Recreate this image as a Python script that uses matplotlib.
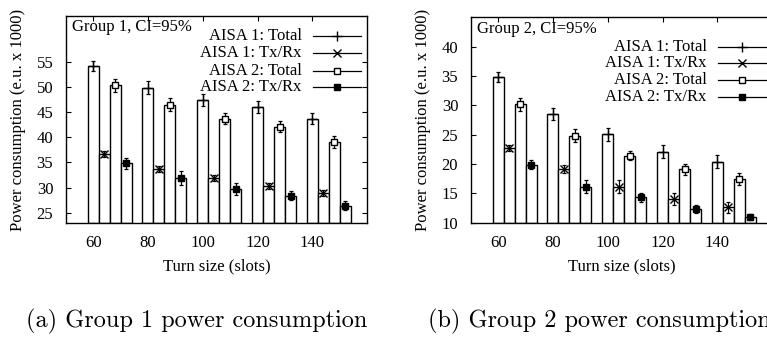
import matplotlib
matplotlib.use("Agg")
import matplotlib.pyplot as plt
from matplotlib.lines import Line2D
import numpy as np

turn_sizes = [60, 80, 100, 120, 140]
series_names = ["AISA 1: Total", "AISA 1: Tx/Rx", "AISA 2: Total", "AISA 2: Tx/Rx"]

# group 1 (values x 1000 e.u.)
g1_a1_total = [54.2, 49.9, 47.5, 46.1, 43.7]
g1_a1_txrx = [36.6, 33.6, 31.9, 30.3, 29.0]
g1_a2_total = [50.4, 46.5, 43.7, 42.1, 39.0]
g1_a2_txrx = [34.8, 31.9, 29.8, 28.4, 26.4]
g1_a1_total_err = [0.9, 1.3, 1.2, 1.2, 1.05]
g1_a1_txrx_err = [0.6, 0.6, 0.6, 0.6, 0.6]
g1_a2_total_err = [1.3, 1.3, 1.05, 1.1, 1.2]
g1_a2_txrx_err = [1.1, 1.3, 1.2, 0.9, 0.9]

# group 2
g2_a1_total = [34.9, 28.5, 25.1, 22.1, 20.4]
g2_a1_txrx = [22.8, 19.1, 16.1, 14.0, 12.6]
g2_a2_total = [30.2, 24.8, 21.4, 19.1, 17.4]
g2_a2_txrx = [19.9, 16.1, 14.3, 12.4, 11.0]
g2_a1_total_err = [0.85, 1.0, 1.1, 1.1, 1.1]
g2_a1_txrx_err = [0.5, 0.65, 1.1, 1.05, 1.0]
g2_a2_total_err = [1.1, 1.1, 0.8, 0.95, 1.05]
g2_a2_txrx_err = [0.75, 1.1, 0.7, 0.7, 0.55]

plt.rcParams['font.family'] = ['Liberation Serif', 'DejaVu Serif']
plt.rcParams['font.size'] = 12

markers = [dict(marker='+', ms=7, mew=1.0, mfc='black'),
           dict(marker='x', ms=5.5, mew=1.0, mfc='black'),
           dict(marker='s', ms=5, mew=1.0, mfc='white'),
           dict(marker='s', ms=5, mew=1.0, mfc='black')]

fig = plt.figure(figsize=(7.67, 3.38), dpi=100)
ax1 = fig.add_axes([0.0857, 0.3411, 0.3932, 0.6107])
ax2 = fig.add_axes([0.6137, 0.3411, 0.3932, 0.6095])


def draw(ax, vals, errs, ylim, yticks, title, title_y, leg_rows):
    x = np.arange(len(turn_sizes))
    w = 0.2
    for j, (v, e) in enumerate(zip(vals, errs)):
        xs = x + j * w
        ax.bar(xs, np.array(v) - ylim[0], width=w, bottom=ylim[0], color='white',
               edgecolor='black', linewidth=1.0, zorder=2)
        ax.errorbar(xs, v, yerr=e, fmt='none', ecolor='black', elinewidth=0.9,
                    capsize=1.5, capthick=0.9, zorder=3)
        ax.plot(xs, v, linestyle='none', color='black', zorder=4, **markers[j])
    ax.set_xlim(-0.5, 5.0)
    ax.set_ylim(*ylim)
    ax.set_xticks(x)
    ax.set_xticklabels([str(t) for t in turn_sizes])
    ax.set_yticks(yticks)
    ax.tick_params(direction='in', top=True, right=True, length=3.5, width=0.8)
    ax.tick_params(axis='x', pad=9)
    ax.tick_params(axis='y', pad=9)
    for s in ax.spines.values():
        s.set_linewidth(1.0)
    ax.set_xlabel('Turn size (slots)')
    ax.xaxis.label.set_va('center')
    ax.xaxis.set_label_coords(0.5, -0.213)
    ax.set_ylabel('Power consumption (e.u. x 1000)')
    ax.yaxis.label.set_va('center')
    ax.yaxis.set_label_coords(-0.158, 0.5)
    ax.text(0.02, title_y, title, transform=ax.transAxes, ha='left', va='center')
    # key box, gnuplot style: label then sample line with point
    for j, yy in enumerate(leg_rows):
        ax.text(0.7825, yy, series_names[j], transform=ax.transAxes,
                ha='right', va='center')
        ln = Line2D([0.82, 0.978], [yy, yy], transform=ax.transAxes,
                    color='black', linewidth=0.9, clip_on=False, zorder=5)
        ax.add_line(ln)
        ax.plot([0.8985], [yy], transform=ax.transAxes, linestyle='none',
                color='black', clip_on=False, zorder=6, **markers[j])


draw(ax1, [g1_a1_total, g1_a1_txrx, g1_a2_total, g1_a2_txrx],
     [g1_a1_total_err, g1_a1_txrx_err, g1_a2_total_err, g1_a2_txrx_err],
     (23.0, 64.1), [25, 30, 35, 40, 45, 50, 55], 'Group 1, CI=95%', 0.95,
     [0.9045, 0.8207, 0.7364, 0.656])
draw(ax2, [g2_a1_total, g2_a1_txrx, g2_a2_total, g2_a2_txrx],
     [g2_a1_total_err, g2_a1_txrx_err, g2_a2_total_err, g2_a2_txrx_err],
     (10.0, 45.1), [10, 15, 20, 25, 30, 35, 40], 'Group 2, CI=95%', 0.939,
     [0.854, 0.774, 0.693, 0.612])

fig.text(0.257, 0.048, '(a) Group 1 power consumption', family='cmr10',
         fontsize=17.5, ha='center', va='center')
fig.text(0.781, 0.048, '(b) Group 2 power consumption', family='cmr10',
         fontsize=17.5, ha='center', va='center')

fig.savefig('out.png', dpi=100)
